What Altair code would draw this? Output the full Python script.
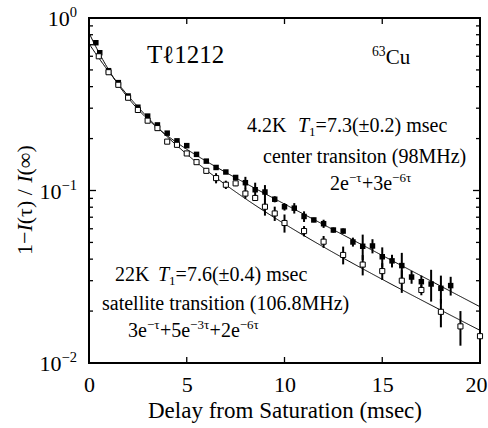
import numpy as np
import pandas as pd
import altair as alt

FONT = "Liberation Serif"
W, H = 391, 345          # plot area
PAD_L, PAD_T = 89, 18    # offset of the plot area inside the page

# ---- measured recovery, 98 MHz centre line at 4.2 K (filled squares) ----
t_center = [0.35, 0.55, 1.0, 1.5, 2.0, 2.5, 3.0, 3.5, 4.0, 4.5, 5.0, 5.5, 6.0,
            6.5, 7.0, 7.5, 8.0, 8.5, 9.0, 9.5, 10.0, 10.5, 11.0, 11.5, 12.0,
            12.5, 13.0, 13.5, 14.0, 14.5, 15.0, 15.5, 16.0, 16.5, 17.0, 17.5,
            18.0, 18.5]
m_center = [0.719, 0.629, 0.495, 0.422, 0.353, 0.304, 0.270, 0.240, 0.215,
            0.194, 0.182, 0.162, 0.148, 0.136, 0.128, 0.119, 0.111, 0.101,
            0.098, 0.089, 0.0805, 0.079, 0.0707, 0.0675, 0.0642, 0.059, 0.0582,
            0.0503, 0.0475, 0.0477, 0.0413, 0.0391, 0.0367, 0.0315, 0.0296,
            0.0287, 0.0271, 0.0281]
e_center = [0, 0, 0, 0, 0, 0, 0, 0, 0, 0, 0, 0, 0, 0, 0, 0,
            0.009, 0.010, 0.0095, 0.0036, 0.004, 0.0055, 0.005, 0.002, 0.0035,
            0.002, 0.002, 0.003, 0.008, 0.0045, 0.0055, 0.0033, 0.0068, 0.0027,
            0.0025, 0.006, 0.005, 0.0035]

# ---- measured recovery, 106.8 MHz satellite line at 22 K (open squares) ----
t_sat = [0.5, 1.0, 1.5, 2.0, 2.5, 3.0, 3.5, 4.0, 4.5, 5.0, 5.5, 6.0, 6.5, 7.0,
         7.5, 8.0, 8.5, 9.0, 9.5, 10, 11, 12, 13, 14, 15, 16, 17, 18, 19, 20]
m_sat = [0.60, 0.485, 0.41, 0.345, 0.293, 0.254, 0.230, 0.192, 0.184, 0.164,
         0.146, 0.130, 0.118, 0.108, 0.110, 0.096, 0.0905, 0.0805, 0.0736,
         0.0648, 0.0582, 0.0505, 0.0423, 0.0372, 0.0341, 0.030, 0.0265,
         0.0198, 0.0163, 0.0143]
e_sat = [0, 0, 0, 0, 0, 0, 0, 0, 0, 0, 0, 0,
         0.008, 0.006, 0.004, 0.0065, 0.0035, 0.009, 0.007,
         0.0078, 0.004, 0.004, 0.005, 0.005, 0.0038, 0.0045, 0.0018, 0.0037,
         0.0037, 0]

# ---- fitted recovery laws (tau = t / T1) ----
T1_center, amp_center, coef_center, rate_center = 7.3, 0.82, [2, 3], [1, 6]
T1_sat, amp_sat, coef_sat, rate_sat = 7.6, 0.71, [3, 5, 2], [1, 3, 6]

# ---- axis ticks ----
x_labels = [0, 5, 10, 15, 20]
x_inner_ticks = [5, 10, 15]
y_major = [1, 0.1, 0.01]
y_exponent = ["0", "−1", "−2"]
y_minor = [0.02, 0.03, 0.04, 0.05, 0.06, 0.07, 0.08, 0.09,
           0.2, 0.3, 0.4, 0.5, 0.6, 0.7, 0.8, 0.9]


def recovery(t, amp, T1, coef, rate):
    tau = t / T1
    total = sum(c * np.exp(-r * tau) for c, r in zip(coef, rate))
    return amp * total / sum(coef)


t_grid = np.linspace(0, 20, 401)
curves = pd.concat([
    pd.DataFrame({"t": t_grid, "m": recovery(t_grid, amp_center, T1_center, coef_center, rate_center), "s": "center"}),
    pd.DataFrame({"t": t_grid, "m": recovery(t_grid, amp_sat, T1_sat, coef_sat, rate_sat), "s": "sat"}),
])
center = pd.DataFrame({"t": t_center, "m": m_center, "e": e_center})
sat = pd.DataFrame({"t": t_sat, "m": m_sat, "e": e_sat})

# ---- glyph advance widths (Times metrics, em units) for placing rich text ----
NORMAL_W = {" ": .25, "(": .333, ")": .333, "+": .564, "−": .564, ".": .25,
            "/": .278, "=": .564, "±": .549, "C": .667, "H": .722, "K": .722,
            "M": .889, "T": .611, "a": .444, "c": .444, "e": .444, "i": .278,
            "l": .278, "m": .778, "n": .5, "o": .5, "r": .333, "s": .389,
            "t": .278, "u": .5, "z": .444, "ℓ": .417, "τ": .439, "∞": .713}
ITALIC_W = {"T": .556, "I": .333}


def text_width(s, size, italic=False):
    tot = 0.0
    for ch in s:
        if italic and ch in ITALIC_W:
            tot += ITALIC_W[ch]
        elif ch.isdigit():
            tot += 0.5
        else:
            tot += NORMAL_W.get(ch, 0.5)
    return tot * size


def rich(x0, y0, parts, size):
    """Lay out a line of mixed normal / italic / super / subscript text."""
    rows, x = [], x0
    for text, kind in parts:
        fs = size * 0.65 if kind in ("sup", "sub") else size
        dy = -0.38 * size if kind == "sup" else (0.2 * size if kind == "sub" else 0)
        rows.append(dict(px=x - PAD_L, py=y0 + dy - PAD_T, text=text, fs=fs,
                         italic=(kind == "i")))
        x += text_width(text, fs, kind == "i")
    return rows


def rich_vertical(xb, y0, parts, size):
    """Same, rotated to read bottom-to-top."""
    rows, y = [], y0
    for text, kind in parts:
        rows.append(dict(px=xb - PAD_L, py=y - PAD_T, text=text, fs=size,
                         italic=(kind == "i")))
        y -= text_width(text, size, kind == "i")
    return rows


ANN = 20
notes = []
notes += rich(147, 63, [("Tℓ1212", "n")], 25)
notes += rich(372, 64, [("63", "sup"), ("Cu", "n")], 21)
notes += rich(247, 132, [("4.2K", "n")], ANN)
notes += rich(298, 132, [("T", "i"), ("1", "sub"), ("=7.3(±0.2) msec", "n")], ANN)
notes += rich(263, 163, [("center transiton (98MHz)", "n")], ANN)
notes += rich(330, 190, [("2e", "n"), ("−τ", "sup"), ("+3e", "n"), ("−6τ", "sup")], ANN)
notes += rich(115, 281, [("22K", "n")], ANN)
notes += rich(158, 281, [("T", "i"), ("1", "sub"), ("=7.6(±0.4) msec", "n")], ANN)
notes += rich(102, 310, [("satellite transition (106.8MHz)", "n")], ANN)
notes += rich(128, 337, [("3e", "n"), ("−τ", "sup"), ("+5e", "n"), ("−3τ", "sup"),
                         ("+2e", "n"), ("−6τ", "sup")], ANN)
notes = pd.DataFrame(notes)

ytitle = pd.DataFrame(rich_vertical(32, 255, [("1−", "n"), ("I", "i"), ("(τ) / ", "n"),
                                              ("I", "i"), ("(∞)", "n")], 22))

# y tick labels: "10" with a raised exponent, right-aligned to the axis
LBL, EXP = 22, 14.5
ylab = []
for v, ex in zip(y_major, y_exponent):
    ex_x = -12 - text_width(ex, EXP)
    ylab.append(dict(v=v, text="10", px=ex_x - text_width("10", LBL), fs=LBL))
    ylab.append(dict(v=v, text=ex, px=ex_x, fs=EXP))
ylab = pd.DataFrame(ylab)

# inward tick marks on all four sides
yt = pd.DataFrame(
    [dict(v=v, x0=0, x1=7) for v in y_major] + [dict(v=v, x0=0, x1=4) for v in y_minor]
    + [dict(v=v, x0=W, x1=W - 7) for v in y_major] + [dict(v=v, x0=W, x1=W - 4) for v in y_minor]
)
xt = pd.DataFrame([dict(t=t, y0=H, y1=H - 6) for t in x_inner_ticks]
                  + [dict(t=t, y0=0, y1=6) for t in x_inner_ticks])

xs = alt.Scale(domain=[0, 20], nice=False, zero=False)
ys = alt.Scale(type="log", domain=[0.01, 1], nice=False)

xaxis = alt.Axis(values=x_labels, format="d", labelFont=FONT, labelFontSize=22,
                 labelColor="black", ticks=False, tickSize=0, domain=False,
                 grid=False, labelPadding=11,
                 labelOffset={"condition": {"test": "datum.value >= 20", "value": -4}, "value": 0},
                 title="Delay from Saturation (msec)",
                 titleFont=FONT, titleFontSize=23, titleFontWeight="normal",
                 titleColor="black", titlePadding=4, labelFlush=False)


def X(field):
    return alt.X(field, scale=xs, axis=xaxis)


def Y(field):
    return alt.Y(field, scale=ys, axis=None)


curve_layer = alt.Chart(curves).mark_line(color="black", strokeWidth=1).encode(
    x=X("t:Q"), y=Y("m:Q"), detail="s:N")


def bars(df):
    return alt.Chart(df).transform_filter("datum.e > 0").transform_calculate(
        lo="datum.m - datum.e", hi="datum.m + datum.e"
    ).mark_rule(color="black", strokeWidth=2).encode(
        x=X("t:Q"), y=Y("lo:Q"), y2="hi:Q")


filled = alt.Chart(center).mark_square(size=30, color="black", opacity=1).encode(
    x=X("t:Q"), y=Y("m:Q"))
hollow = alt.Chart(sat).mark_square(size=26, filled=True, fill="white",
                                    stroke="black", strokeWidth=1, opacity=1).encode(
    x=X("t:Q"), y=Y("m:Q"))

ytick_layer = alt.Chart(yt).mark_rule(color="black", strokeWidth=1.3).encode(
    x=alt.X("x0:Q", scale=None, axis=None), x2="x1:Q", y=Y("v:Q"))
xtick_layer = alt.Chart(xt).mark_rule(color="black", strokeWidth=1.3).encode(
    x=X("t:Q"), y=alt.Y("y0:Q", scale=None, axis=None), y2="y1:Q")

# y tick labels; the exponent sits higher than the base "10"
ylabel_base = alt.Chart(ylab[ylab.text == "10"]).mark_text(
    font=FONT, align="left", baseline="alphabetic", color="black", dy=8).encode(
    x=alt.X("px:Q", scale=None, axis=None), y=Y("v:Q"),
    text="text:N", size=alt.Size("fs:Q", scale=None, legend=None))
ylabel_exp = alt.Chart(ylab[ylab.text != "10"]).mark_text(
    font=FONT, align="left", baseline="alphabetic", color="black", dy=-1).encode(
    x=alt.X("px:Q", scale=None, axis=None), y=Y("v:Q"),
    text="text:N", size=alt.Size("fs:Q", scale=None, legend=None))


def text_layer(df, italic, angle=0):
    kw = dict(font=FONT, align="left", baseline="alphabetic", color="black")
    if italic:
        kw["fontStyle"] = "italic"
    if angle:
        kw["angle"] = angle
    return alt.Chart(df[df.italic == italic]).mark_text(**kw).encode(
        x=alt.X("px:Q", scale=None, axis=None),
        y=alt.Y("py:Q", scale=None, axis=None),
        text="text:N",
        size=alt.Size("fs:Q", scale=None, legend=None),
    )


chart = alt.layer(
    curve_layer, bars(center), bars(sat), filled, hollow,
    ytick_layer, xtick_layer, ylabel_base, ylabel_exp,
    text_layer(notes, False), text_layer(notes, True),
    text_layer(ytitle, False, 270), text_layer(ytitle, True, 270),
).properties(
    width=W, height=H,
    autosize=alt.AutoSizeParams(type="none"),
    padding={"left": PAD_L, "top": PAD_T, "right": 8, "bottom": 65},
    background="white",
).configure_view(stroke="black", strokeWidth=2)

chart.save("out.html", embed_options={"renderer": "svg", "actions": False})
